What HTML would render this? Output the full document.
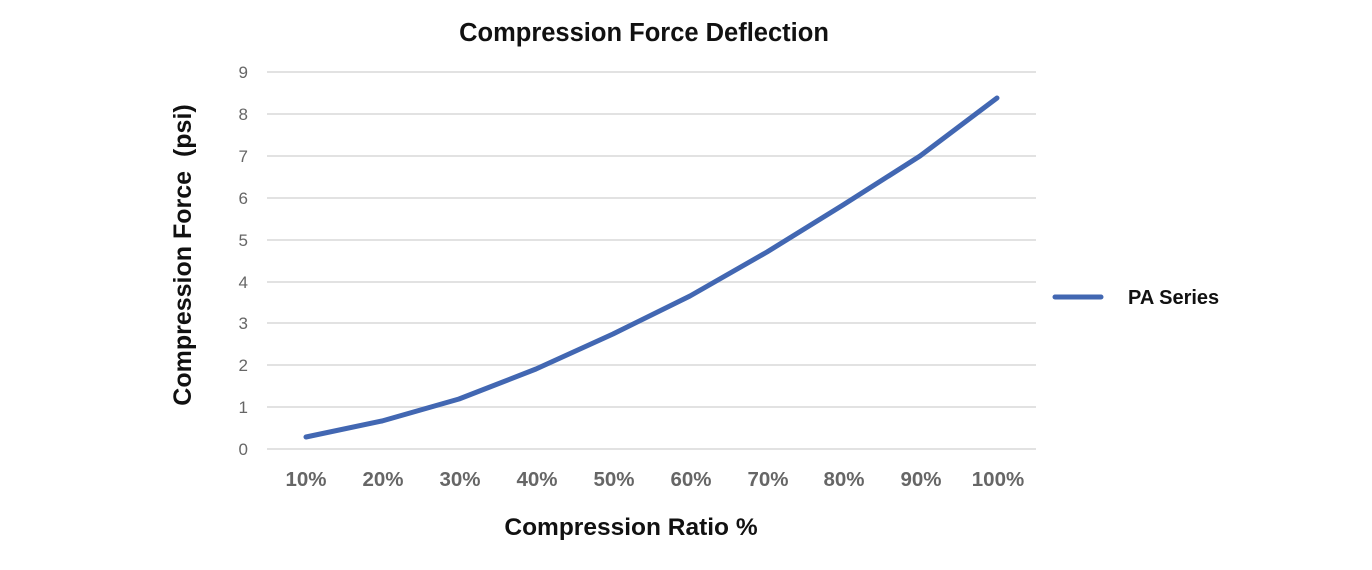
<!DOCTYPE html>
<html><head><style>body{margin:0;background:#fff}</style></head><body>
<svg width="1372" height="570" xmlns="http://www.w3.org/2000/svg" style="display:block">
<rect width="1372" height="570" fill="#fff"/>
<text x="644" y="41" text-anchor="middle" font-family="Liberation Sans, sans-serif" font-weight="bold" font-size="25.5" fill="#111">Compression Force Deflection</text>
<g stroke="#d9d9d9" stroke-width="1.5">
<line x1="267" x2="1036" y1="72" y2="72"/><line x1="267" x2="1036" y1="114" y2="114"/>
<line x1="267" x2="1036" y1="156" y2="156"/><line x1="267" x2="1036" y1="198" y2="198"/>
<line x1="267" x2="1036" y1="240" y2="240"/><line x1="267" x2="1036" y1="282" y2="282"/>
<line x1="267" x2="1036" y1="323" y2="323"/><line x1="267" x2="1036" y1="365" y2="365"/>
<line x1="267" x2="1036" y1="407" y2="407"/><line x1="267" x2="1036" y1="449" y2="449"/>
</g>
<g font-family="Liberation Sans, sans-serif" font-size="17" fill="#666" text-anchor="end">
<text x="248" y="78">9</text><text x="248" y="120">8</text><text x="248" y="162">7</text>
<text x="248" y="204">6</text><text x="248" y="246">5</text><text x="248" y="288">4</text>
<text x="248" y="329">3</text><text x="248" y="371">2</text><text x="248" y="413">1</text>
<text x="248" y="455">0</text>
</g>
<g font-family="Liberation Sans, sans-serif" font-size="20.5" font-weight="bold" fill="#666" text-anchor="middle">
<text x="306" y="486">10%</text><text x="383" y="486">20%</text><text x="460" y="486">30%</text>
<text x="537" y="486">40%</text><text x="614" y="486">50%</text><text x="691" y="486">60%</text>
<text x="768" y="486">70%</text><text x="844" y="486">80%</text><text x="921" y="486">90%</text>
<text x="998" y="486">100%</text>
</g>
<polyline fill="none" stroke="#4267b2" stroke-width="5" stroke-linecap="round" stroke-linejoin="round"
points="306,437 382,421 459,399 536,369 613,334 690,296 767,252 843,205 920,156 997,98"/>
<text x="631" y="535" text-anchor="middle" font-family="Liberation Sans, sans-serif" font-weight="bold" font-size="24.5" fill="#111">Compression Ratio %</text>
<text transform="translate(191,255) rotate(-90)" text-anchor="middle" font-family="Liberation Sans, sans-serif" font-weight="bold" font-size="25" fill="#111" xml:space="preserve">Compression Force  (psi)</text>
<line x1="1055" x2="1101" y1="297" y2="297" stroke="#4267b2" stroke-width="5" stroke-linecap="round"/>
<text x="1128" y="304" font-family="Liberation Sans, sans-serif" font-weight="bold" font-size="20" fill="#111">PA Series</text>
</svg>
</body></html>
